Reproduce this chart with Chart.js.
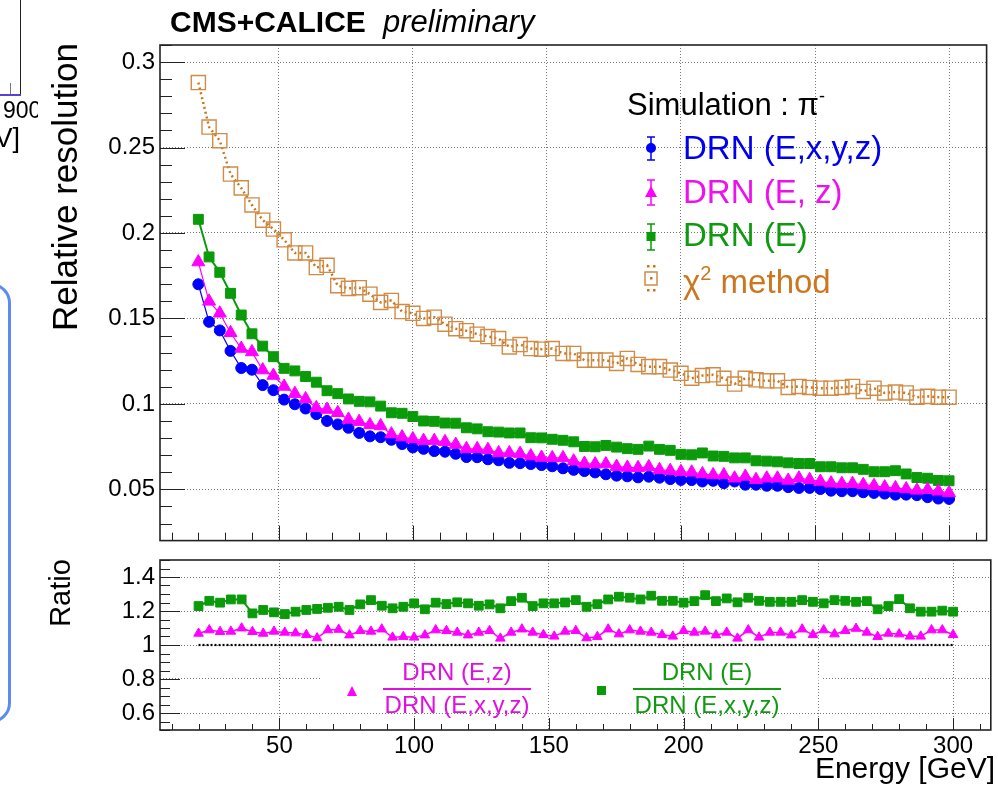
<!DOCTYPE html>
<html><head><meta charset="utf-8">
<script src="https://cdn.jsdelivr.net/npm/chart.js@4.4.1/dist/chart.umd.min.js"></script>
<style>
html,body{margin:0;padding:0;background:#fff;width:998px;height:789px;overflow:hidden;}
body{position:relative;font-family:"Liberation Sans",Arial,Helvetica,sans-serif;}
canvas{position:absolute;left:0;}
#c1{top:0}
#c2{top:552px}
.t{position:absolute;white-space:nowrap;line-height:1;}
</style></head><body>
<canvas id="c1" width="998" height="552"></canvas>
<canvas id="c2" width="998" height="237"></canvas>

<!-- fragments of the neighbouring slide content -->
<div style="position:absolute;left:20px;top:0;width:1px;height:95px;background:#222"></div>
<div style="position:absolute;left:0;top:94px;width:21px;height:2px;background:#5a3fd0"></div>
<div style="position:absolute;left:10px;top:83px;width:1px;height:11px;background:#777"></div>
<div class="t" style="left:0;top:99px;width:35px;overflow:hidden;font-size:23px;padding-left:3px">900</div>
<div class="t" style="right:978px;top:125px;font-size:27px">[GeV]</div>
<div style="position:absolute;left:-34px;top:283px;width:45px;height:440px;box-sizing:border-box;border:3px solid #5b8def;border-radius:20px"></div>

<!-- titles -->
<div class="t" style="left:170px;top:7px;font-size:30px;font-weight:bold">CMS+CALICE</div>
<div class="t" style="left:383px;top:6px;font-size:31px;font-style:italic">preliminary</div>
<div class="t" style="left:64px;top:187px;font-size:35px;transform:translate(-50%,-50%) rotate(-90deg)">Relative resolution</div>
<div class="t" style="left:60px;top:593px;font-size:29px;transform:translate(-50%,-50%) rotate(-90deg)">Ratio</div>
<div class="t" style="right:3px;top:753px;font-size:30px">Energy [GeV]</div>

<!-- legend -->
<div class="t" style="left:627px;top:87px;font-size:31px">Simulation : π<span style="font-size:18px;vertical-align:13px">-</span></div>
<div class="t" style="left:683px;top:131px;font-size:33px;color:#0000ee">DRN (E,x,y,z)</div>
<div class="t" style="left:683px;top:175px;font-size:33px;color:#ee10ee">DRN (E, z)</div>
<div class="t" style="left:683px;top:218px;font-size:33px;color:#109a10">DRN (E)</div>
<div class="t" style="left:683px;top:263px;font-size:33px;color:#cc7720">χ<span style="font-size:20px;vertical-align:13px">2</span> method</div>

<!-- ratio legend -->
<div class="t" style="left:457px;top:660px;font-size:24px;color:#e010e0;transform:translateX(-50%)">DRN (E,z)</div>
<div style="position:absolute;left:383px;top:688px;width:148px;height:2px;background:#e010e0"></div>
<div class="t" style="left:457px;top:693px;font-size:24px;color:#e010e0;transform:translateX(-50%)">DRN (E,x,y,z)</div>
<div class="t" style="left:707px;top:660px;font-size:24px;color:#119a11;transform:translateX(-50%)">DRN (E)</div>
<div style="position:absolute;left:633px;top:688px;width:148px;height:2px;background:#119a11"></div>
<div class="t" style="left:707px;top:693px;font-size:24px;color:#119a11;transform:translateX(-50%)">DRN (E,x,y,z)</div>

<script>
// ---------------- data ----------------
const energy = [20,24,28,32,36,40,44,48,52,56,
  60,64,68,72,76,80,84,88,92,96,
  100,104,108,112,116,120,124,128,132,136,
  140,144,148,152,156,160,164,168,172,176,
  180,184,188,192,196,200,204,208,212,216,
  220,224,228,232,236,240,244,248,252,256,
  260,264,268,272,276,280,284,288,292,296,
  300];

const resExyz = [0.170,0.148,0.143,0.131,0.121,0.120,0.111,0.108,0.1025,0.0998,
  0.0973,0.094,0.090,0.088,0.086,0.083,0.081,0.0805,0.079,0.0765,
  0.0745,0.0737,0.0724,0.072,0.0708,0.0689,0.0688,0.0676,0.067,0.0655,
  0.0653,0.0648,0.0642,0.0635,0.0623,0.0614,0.0607,0.0599,0.0588,0.058,
  0.0576,0.057,0.0574,0.0568,0.056,0.0555,0.0554,0.0546,0.055,0.0536,
  0.0546,0.0527,0.0527,0.0521,0.0521,0.0513,0.0508,0.0508,0.0502,0.0492,
  0.0489,0.0489,0.0483,0.0479,0.0475,0.0469,0.0469,0.0466,0.0454,0.0446,
  0.0444];

const resEz = [0.183,0.160,0.153,0.1416,0.1324,0.1304,0.1198,0.1166,0.1102,0.106,
  0.1029,0.0977,0.0967,0.0948,0.0909,0.0896,0.0877,0.0871,0.0823,0.0806,
  0.0795,0.0785,0.0785,0.0778,0.0762,0.0737,0.0737,0.0732,0.0713,0.0713,
  0.0709,0.0695,0.0686,0.0684,0.0684,0.0665,0.0651,0.0648,0.0648,0.0633,
  0.0628,0.0626,0.0631,0.0614,0.0609,0.0603,0.060,0.059,0.0584,0.0584,
  0.0565,0.0575,0.0556,0.0565,0.0565,0.0552,0.0565,0.0556,0.0546,0.0536,
  0.0533,0.0533,0.0527,0.0521,0.0513,0.0508,0.0502,0.0494,0.0498,0.0489,
  0.0479];

const resE = [0.208,0.186,0.177,0.1647,0.152,0.141,0.1338,0.1276,0.1208,0.1193,
  0.116,0.1127,0.1077,0.106,0.1029,0.1015,0.1012,0.0987,0.0948,0.0945,
  0.0926,0.090,0.0898,0.0888,0.0887,0.086,0.0854,0.0837,0.0835,0.083,
  0.083,0.0802,0.0801,0.0793,0.0787,0.0778,0.0751,0.0749,0.0757,0.0747,
  0.0738,0.0734,0.0753,0.0734,0.0728,0.0705,0.0702,0.0713,0.0695,0.0693,
  0.0684,0.0684,0.0667,0.0665,0.0661,0.0655,0.0651,0.0651,0.0632,0.0632,
  0.0626,0.0626,0.0617,0.0603,0.0603,0.0609,0.059,0.0569,0.0565,0.0552,
  0.055];

const resChi2 = [0.288,0.262,0.254,0.2345,0.2264,0.2164,0.2075,0.2023,0.196,0.1883,
  0.1883,0.1798,0.1811,0.1692,0.1676,0.168,0.1642,0.1594,0.1605,0.154,
  0.153,0.150,0.1507,0.1466,0.144,0.1428,0.1408,0.1394,0.1382,0.1333,
  0.1347,0.1324,0.132,0.1324,0.1295,0.1295,0.1256,0.1256,0.1256,0.1237,
  0.1266,0.1231,0.1218,0.1218,0.1198,0.1179,0.115,0.1166,0.117,0.115,
  0.1116,0.115,0.1141,0.1135,0.1135,0.1096,0.1102,0.1096,0.1092,0.1092,
  0.1096,0.1102,0.1073,0.1092,0.1064,0.1069,0.1064,0.1039,0.1044,0.1039,
  0.1039];

const ratioEz = [1.068,1.088,1.078,1.08,1.099,1.078,1.068,1.08,1.074,1.07,
  1.06,1.041,1.088,1.091,1.058,1.084,1.08,1.093,1.045,1.049,
  1.045,1.058,1.088,1.084,1.074,1.058,1.074,1.084,1.039,1.074,
  1.093,1.074,1.06,1.051,1.08,1.084,1.041,1.049,1.093,1.064,
  1.088,1.08,1.074,1.06,1.051,1.084,1.074,1.08,1.058,1.074,
  1.039,1.088,1.045,1.074,1.074,1.058,1.093,1.06,1.088,1.064,
  1.084,1.097,1.074,1.049,1.068,1.064,1.051,1.051,1.088,1.088,
  1.06];

const ratioE = [1.229,1.26,1.249,1.268,1.268,1.186,1.206,1.192,1.182,1.196,
  1.206,1.212,1.219,1.225,1.206,1.239,1.264,1.231,1.216,1.225,
  1.245,1.21,1.249,1.241,1.251,1.245,1.231,1.239,1.216,1.258,
  1.278,1.229,1.245,1.245,1.25,1.264,1.225,1.24,1.268,1.284,
  1.278,1.268,1.29,1.26,1.26,1.249,1.258,1.293,1.258,1.274,
  1.251,1.278,1.26,1.254,1.254,1.254,1.264,1.254,1.245,1.264,
  1.26,1.254,1.258,1.21,1.229,1.27,1.216,1.196,1.196,1.202,
  1.196];

const refLineX = [20, 300];
const refLineY = [1, 1];

const xTickValues = [50,100,150,200,250,300];
const yTopTickValues = [0.05,0.1,0.15,0.2,0.25,0.3];
const yRatioTickValues = [0.6,0.8,1,1.2,1.4];

// ---------------- styles ----------------
const BLUE = '#0000ff', MAG = '#ff00ff', GREEN = '#0a9a0a', ORANGE = '#c8761e', ORANGE_BOX = '#d08c46';
const GRID = '#777777';
const FONT = '"Liberation Sans", Arial, Helvetica, sans-serif';

const pts = (xs, ys) => xs.map((x, i) => ({x: x, y: ys[i]}));

function tickMarkPlugin(id, xMarks, yMarks) {
  return {
    id: id,
    afterDraw(chart) {
      const {ctx, chartArea: a, scales} = chart;
      ctx.save();
      ctx.strokeStyle = '#222';
      ctx.lineWidth = 1;
      ctx.beginPath();
      yMarks.forEach(m => {
        const y = Math.round(scales.y.getPixelForValue(m.v)) + 0.5;
        if (y < a.top - 0.1 || y > a.bottom + 0.6) return;
        ctx.moveTo(a.left, y); ctx.lineTo(a.left + m.len, y);
      });
      xMarks.forEach(m => {
        const x = Math.round(scales.x.getPixelForValue(m.v)) + 0.5;
        if (x < a.left || x > a.right) return;
        ctx.moveTo(x, a.bottom); ctx.lineTo(x, a.bottom - m.len);
      });
      ctx.stroke();
      ctx.lineWidth = 1.6;
      ctx.strokeStyle = '#222';
      ctx.strokeRect(a.left, a.top, a.right - a.left, a.bottom - a.top);
      ctx.restore();
    }
  };
}

const topYMarks = [], topXMarks = [], ratioYMarks = [], ratioXMarks = [];
for (let k = 2; k <= 31; k++) topYMarks.push({v: k / 100, len: k % 5 === 0 ? 25 : 12});
for (let k = 1; k <= 31; k++) topXMarks.push({v: k * 10, len: k % 5 === 0 ? 15 : 8});
for (let k = 10; k <= 30; k++) ratioYMarks.push({v: k / 20, len: k % 4 === 0 ? 20 : 10});
for (let k = 1; k <= 31; k++) ratioXMarks.push({v: k * 10, len: k % 5 === 0 ? 12 : 6});

function errBar(ctx, x, y1, y2, color, w) {
  ctx.strokeStyle = color; ctx.lineWidth = 1.5;
  ctx.beginPath();
  ctx.moveTo(x, y1); ctx.lineTo(x, y2);
  ctx.moveTo(x - w, y1); ctx.lineTo(x + w, y1);
  ctx.moveTo(x - w, y2); ctx.lineTo(x + w, y2);
  ctx.stroke();
}

const legendPlugin = {
  id: 'legendGlyphs',
  afterDraw(chart) {
    const ctx = chart.ctx;
    ctx.save();
    const lx = 651;
    errBar(ctx, lx, 137, 160, BLUE, 4);
    ctx.fillStyle = BLUE; ctx.beginPath(); ctx.arc(lx, 148, 5, 0, Math.PI * 2); ctx.fill();
    errBar(ctx, lx, 180, 205, MAG, 4);
    ctx.fillStyle = MAG; ctx.beginPath();
    ctx.moveTo(lx, 186); ctx.lineTo(lx + 6, 197); ctx.lineTo(lx - 6, 197); ctx.closePath(); ctx.fill();
    errBar(ctx, lx, 224, 250, GREEN, 4);
    ctx.fillStyle = GREEN; ctx.fillRect(lx - 4.5, 232, 9, 9);
    ctx.strokeStyle = ORANGE_BOX; ctx.lineWidth = 1.5;
    ctx.strokeRect(lx - 6, 272, 12, 13);
    ctx.fillStyle = ORANGE;
    [[-3, 266], [3, 266], [-3, 290], [3, 290], [0, 278]].forEach(p => ctx.fillRect(lx + p[0] - 1, p[1] - 1, 2.5, 2.5));
    ctx.restore();
  }
};

const ratioLegendPlugin = {
  id: 'ratioLegend',
  beforeDatasetsDraw(chart) {
    const ctx = chart.ctx;
    const y = chart.scales.y.getPixelForValue(0.8);
    ctx.save(); ctx.fillStyle = '#fff'; ctx.fillRect(321, y - 1.5, 501, 3); ctx.restore();
  },
  afterDraw(chart) {
    const ctx = chart.ctx;
    ctx.save();
    ctx.fillStyle = MAG; ctx.beginPath();
    ctx.moveTo(352, 134); ctx.lineTo(357, 144); ctx.lineTo(347, 144); ctx.closePath(); ctx.fill();
    ctx.fillStyle = GREEN; ctx.fillRect(597, 134, 9, 9);
    ctx.restore();
  }
};

function axisCommon(ticksArr, fontSize, showLabels, fitFn) {
  return {
    afterBuildTicks: s => { s.ticks = ticksArr.map(v => ({value: v})); },
    afterFit: s => { fitFn(s); s.paddingTop = 0; s.paddingBottom = 0; s.paddingLeft = 0; s.paddingRight = 0; },
    ticks: {display: showLabels, color: '#000', font: {family: FONT, size: fontSize}, callback: v => String(v)},
    grid: {color: GRID, lineWidth: 1, drawTicks: false},
    border: {display: false, dash: [1, 2]}
  };
}

// ---------------- top panel ----------------
const topX = Object.assign({type: 'linear', min: 5.7, max: 314}, axisCommon(xTickValues, 24, false, s => { s.height = 0; }));
const topY = Object.assign({type: 'linear', min: 0.02, max: 0.31}, axisCommon(yTopTickValues, 24, true, s => { s.width = 160; }));
topY.ticks.padding = 5;

new Chart(document.getElementById('c1'), {
  type: 'line',
  data: {
    datasets: [
      {label: 'DRN (E, z)', data: pts(energy, resEz), borderColor: MAG, backgroundColor: MAG, borderWidth: 1.2,
        pointStyle: 'triangle', pointRadius: 7.5, pointBorderWidth: 1, pointBorderColor: MAG, pointBackgroundColor: MAG, order: 0},
      {label: 'DRN (E,x,y,z)', data: pts(energy, resExyz), borderColor: BLUE, backgroundColor: BLUE, borderWidth: 1.2,
        pointStyle: 'circle', pointRadius: 5.5, pointBorderWidth: 1, pointBorderColor: BLUE, pointBackgroundColor: BLUE, order: 1},
      {label: 'DRN (E)', data: pts(energy, resE), borderColor: GREEN, backgroundColor: GREEN, borderWidth: 2,
        pointStyle: 'rect', pointRadius: 7, pointBorderWidth: 1, pointBorderColor: GREEN, pointBackgroundColor: GREEN, order: 2},
      {label: 'χ2 method', data: pts(energy, resChi2), borderColor: ORANGE, backgroundColor: 'rgba(0,0,0,0)', borderWidth: 2.5, borderDash: [2, 3],
        pointStyle: 'rect', pointRadius: 10, pointBorderWidth: 1.4, pointBorderColor: ORANGE_BOX, pointBackgroundColor: 'rgba(0,0,0,0)', order: 3}
    ]
  },
  options: {
    responsive: false, animation: false, devicePixelRatio: 1,
    layout: {padding: {left: 0, right: 3, top: 45, bottom: 7}},
    plugins: {legend: {display: false}, tooltip: {enabled: false}},
    elements: {line: {tension: 0}},
    scales: {x: topX, y: topY}
  },
  plugins: [tickMarkPlugin('topTicks', topXMarks, topYMarks), legendPlugin]
});

// ---------------- ratio panel ----------------
const rX = Object.assign({type: 'linear', min: 5.7, max: 314}, axisCommon(xTickValues, 24, true, s => { s.height = 59; }));
rX.ticks.padding = 2;
rX.ticks.maxRotation = 0;
const rY = Object.assign({type: 'linear', min: 0.5, max: 1.5}, axisCommon(yRatioTickValues, 24, true, s => { s.width = 160; }));
rY.ticks.padding = 5;

new Chart(document.getElementById('c2'), {
  type: 'line',
  data: {
    datasets: [
      {label: 'DRN (E,z) / DRN (E,x,y,z)', data: pts(energy, ratioEz), borderColor: MAG, backgroundColor: MAG, borderWidth: 1.5,
        pointStyle: 'triangle', pointRadius: 5.5, pointBorderWidth: 1, pointBorderColor: MAG, pointBackgroundColor: MAG, order: 0},
      {label: 'DRN (E) / DRN (E,x,y,z)', data: pts(energy, ratioE), borderColor: GREEN, backgroundColor: GREEN, borderWidth: 2,
        pointStyle: 'rect', pointRadius: 6.2, pointBorderWidth: 1, pointBorderColor: GREEN, pointBackgroundColor: GREEN, order: 1},
      {label: 'ratio = 1', data: pts(refLineX, refLineY), borderColor: '#000', borderWidth: 2.2, borderDash: [2, 2],
        pointRadius: 0, order: 2}
    ]
  },
  options: {
    responsive: false, animation: false, devicePixelRatio: 1,
    layout: {padding: {left: 0, right: 3, top: 8, bottom: 0}},
    plugins: {legend: {display: false}, tooltip: {enabled: false}},
    elements: {line: {tension: 0}},
    scales: {x: rX, y: rY}
  },
  plugins: [tickMarkPlugin('ratioTicks', ratioXMarks, ratioYMarks), ratioLegendPlugin]
});
</script>
</body></html>
